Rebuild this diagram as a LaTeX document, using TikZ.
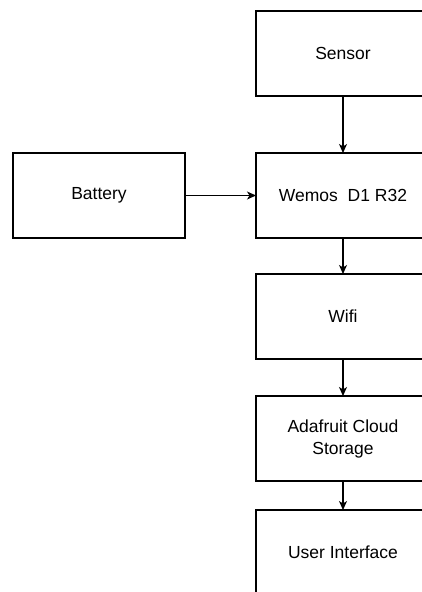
\documentclass[tikz,border=0pt]{standalone}
\usepackage{fontspec}
\setmainfont{Liberation Sans}
\usetikzlibrary{positioning,arrows.meta}

\tikzset{
	block/.style={rectangle, draw, line width=1.2pt, outer sep=0pt, minimum width=174pt, minimum height=85pt, align=center, font=\fontsize{17.5}{22}\selectfont},
	link/.style={line width=1.2pt, -{Stealth[length=9pt,width=8pt,inset=2.5pt]}}
}

\begin{document}
\begin{tikzpicture}[x=1pt,y=-1pt]
	\useasboundingbox (0,0) rectangle (422,592);
	\clip (0,0) rectangle (422,592);
	\node[block] (sensor) at (343,53.5) {Sensor};
	\node[block, below=57pt of sensor] (wemos) {Wemos\ \ D1 R32};
	\node[block, left=71pt of wemos, minimum width=172pt] (battery) {Battery};
	\node[block, below=36pt of wemos] (wifi) {Wifi};
	\node[block, below=37pt of wifi] (cloud) {Adafruit Cloud\\Storage};
	\node[block, below=29pt of cloud] (ui) {User Interface};
	
	\draw[link] (sensor) -- (wemos);
	\draw[link] (battery) -- (wemos);
	\draw[link] (wemos) -- (wifi);
	\draw[link] (wifi) -- (cloud);
	\draw[link] (cloud) -- (ui);
\end{tikzpicture}
\end{document}
